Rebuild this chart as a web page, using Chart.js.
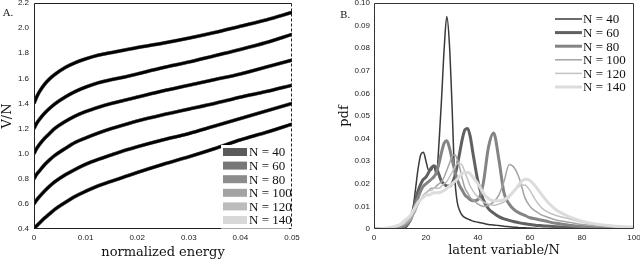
<!DOCTYPE html>
<html>
<head>
<meta charset="utf-8">
<script src="https://cdn.jsdelivr.net/npm/chart.js@4.4.0/dist/chart.umd.min.js"></script>
<style>
  body { margin: 0; background: #fff; }
  #wrap { position: relative; width: 640px; height: 260px; overflow: hidden; }
  canvas { position: absolute; top: 0; }
  #chartA { left: 0; }
  #chartB { left: 320px; }
  .tag { position: absolute; font: 10px "DejaVu Serif", serif; color: #111; }
</style>
</head>
<body>
<div id="wrap">
  <canvas id="chartA" width="320" height="260"></canvas>
  <canvas id="chartB" width="320" height="260"></canvas>
  <span class="tag" style="left:3px;top:7px">A.</span>
  <span class="tag" style="left:340px;top:9px">B.</span>
</div>
<script>
const sizes = ['N = 40', 'N = 60', 'N = 80', 'N = 100', 'N = 120', 'N = 140']

// panel A: V/N against normalized energy, one curve per starting level
const energy = [0, 0.0005, 0.001, 0.002, 0.003, 0.004, 0.006, 0.008, 0.01, 0.0125, 0.015, 0.0175, 0.02, 0.025, 0.03, 0.035, 0.04, 0.045, 0.05]
const vn14 = [1.40, 1.45, 1.49, 1.55, 1.595, 1.63, 1.685, 1.725, 1.755, 1.785, 1.805, 1.825, 1.845, 1.88, 1.92, 1.965, 2.015, 2.065, 2.125]
const vn12 = [1.20, 1.24, 1.27, 1.32, 1.36, 1.395, 1.45, 1.495, 1.53, 1.565, 1.59, 1.61, 1.635, 1.685, 1.73, 1.78, 1.83, 1.885, 1.95]
const vn10 = [1.00, 1.04, 1.07, 1.12, 1.16, 1.20, 1.255, 1.30, 1.335, 1.37, 1.40, 1.425, 1.45, 1.50, 1.545, 1.59, 1.635, 1.69, 1.745]
const vn08 = [0.80, 0.835, 0.86, 0.91, 0.95, 0.985, 1.04, 1.09, 1.125, 1.165, 1.20, 1.23, 1.26, 1.31, 1.355, 1.40, 1.45, 1.495, 1.545]
const vn06 = [0.60, 0.63, 0.655, 0.70, 0.74, 0.775, 0.83, 0.875, 0.915, 0.955, 0.99, 1.025, 1.055, 1.11, 1.16, 1.22, 1.28, 1.34, 1.40]
const vn04 = [0.40, 0.425, 0.445, 0.485, 0.52, 0.555, 0.61, 0.66, 0.70, 0.745, 0.78, 0.815, 0.85, 0.915, 0.975, 1.04, 1.11, 1.17, 1.235]

// panel B: pdf of latent variable/N
const latent = [0, 5, 10, 12, 14, 15, 16, 17, 18, 19, 20, 21, 22, 23, 24, 25, 26, 27, 28, 29, 30, 31, 32, 33, 34, 35, 36, 37, 38, 40, 42, 44, 46, 48, 50, 52, 54, 56, 58, 60, 62, 64, 66, 70, 75, 80, 90, 100]
const pdf40 = [0, 0, 0, 0.0005, 0.004, 0.009, 0.018, 0.027, 0.033, 0.034, 0.030, 0.026, 0.026, 0.028, 0.024, 0.038, 0.058, 0.080, 0.094, 0.082, 0.055, 0.024, 0.012, 0.008, 0.006, 0.005, 0.0045, 0.004, 0.0035, 0.003, 0.0025, 0.002, 0.0018, 0.0015, 0.0012, 0.001, 0.0008, 0.0006, 0.0005, 0.0004, 0.0003, 0.0002, 0.0002, 0.0001, 0, 0, 0, 0]
const pdf60 = [0, 0, 0.0002, 0.001, 0.004, 0.008, 0.013, 0.017, 0.020, 0.022, 0.023, 0.025, 0.027, 0.028, 0.027, 0.024, 0.021, 0.020, 0.019, 0.019, 0.020, 0.023, 0.028, 0.034, 0.040, 0.044, 0.0445, 0.041, 0.034, 0.021, 0.013, 0.009, 0.007, 0.0055, 0.0045, 0.0038, 0.0032, 0.0027, 0.0023, 0.002, 0.0017, 0.0015, 0.0013, 0.001, 0.0007, 0.0004, 0.0002, 0]
const pdf80 = [0, 0, 0.0005, 0.0015, 0.004, 0.007, 0.011, 0.014, 0.017, 0.019, 0.020, 0.021, 0.022, 0.023, 0.025, 0.029, 0.034, 0.038, 0.039, 0.036, 0.031, 0.026, 0.022, 0.019, 0.017, 0.015, 0.014, 0.013, 0.0125, 0.013, 0.020, 0.036, 0.0425, 0.031, 0.016, 0.011, 0.0085, 0.007, 0.006, 0.005, 0.0045, 0.004, 0.0035, 0.0025, 0.0017, 0.0011, 0.0004, 0.0002]
const pdf100 = [0, 0.0002, 0.001, 0.002, 0.004, 0.006, 0.008, 0.011, 0.013, 0.015, 0.016, 0.017, 0.018, 0.018, 0.019, 0.020, 0.021, 0.023, 0.026, 0.029, 0.032, 0.033, 0.031, 0.027, 0.022, 0.018, 0.016, 0.014, 0.013, 0.011, 0.010, 0.0105, 0.012, 0.015, 0.021, 0.0285, 0.027, 0.022, 0.014, 0.010, 0.008, 0.0065, 0.0055, 0.004, 0.003, 0.002, 0.001, 0.0005]
const pdf120 = [0, 0.0003, 0.0015, 0.003, 0.005, 0.007, 0.009, 0.011, 0.013, 0.015, 0.016, 0.017, 0.017, 0.018, 0.018, 0.018, 0.019, 0.020, 0.021, 0.023, 0.025, 0.027, 0.029, 0.029, 0.028, 0.025, 0.022, 0.019, 0.017, 0.014, 0.012, 0.011, 0.0105, 0.011, 0.012, 0.014, 0.017, 0.019, 0.0195, 0.017, 0.013, 0.010, 0.008, 0.006, 0.0045, 0.003, 0.0015, 0.0008]
const pdf140 = [0, 0.0005, 0.002, 0.004, 0.006, 0.008, 0.010, 0.012, 0.013, 0.014, 0.015, 0.015, 0.0155, 0.016, 0.016, 0.016, 0.0165, 0.017, 0.018, 0.019, 0.020, 0.021, 0.022, 0.0235, 0.0245, 0.025, 0.025, 0.0245, 0.023, 0.020, 0.016, 0.0135, 0.0125, 0.0125, 0.013, 0.0145, 0.017, 0.020, 0.022, 0.0215, 0.019, 0.016, 0.013, 0.0085, 0.0055, 0.0035, 0.0015, 0.0008]

const greysA = ['#5a5a5a', '#777777', '#8c8c8c', '#a3a3a3', '#bcbcbc', '#d8d8d8']
const greysB = ['#3a3a3a', '#606060', '#848484', '#a4a4a4', '#c2c2c2', '#dcdcdc']
const widthsB = [1.5, 3, 3, 1.5, 1.5, 3]

const serif = '"Liberation Serif", serif'
const titleFont = { family: '"DejaVu Serif", serif', size: 13 }
const tickFont = { family: '"Liberation Sans", sans-serif', size: 8 }

// all six curves in one dataset, with a null point between them
function curvePoints() {
  let pts = []
  let curves = [vn14, vn12, vn10, vn08, vn06, vn04]
  curves.forEach(c => {
    c.forEach((v, i) => pts.push({ x: energy[i], y: v }))
    pts.push({ x: energy[energy.length - 1], y: null })
  })
  return pts
}

const frame = {
  id: 'frame',
  afterDatasetsDraw(chart, args, o) {
    const ctx = chart.ctx
    const a = chart.chartArea
    const l = Math.round(a.left) + 0.5, r = Math.round(a.right) - 0.5
    const t = Math.round(a.top) + 0.5, b = Math.round(a.bottom) - 0.5
    ctx.save()
    ctx.strokeStyle = o.color
    ctx.lineWidth = 1
    ctx.beginPath()
    ctx.moveTo(r, t); ctx.lineTo(l, t); ctx.lineTo(l, b); ctx.lineTo(r, b)
    ctx.stroke()
    ctx.setLineDash(o.rightDash || [])
    ctx.beginPath()
    ctx.moveTo(r, t); ctx.lineTo(r, b)
    ctx.stroke()
    ctx.restore()
  }
}

const keyBox = {
  id: 'keyBox',
  afterDraw(chart, args, o) {
    const ctx = chart.ctx
    let items = chart.data.datasets.filter(ds => ds.label)
    ctx.save()
    if (o.bg) {
      ctx.fillStyle = '#fff'
      ctx.fillRect(o.x - 2, o.y - 7, o.bgW, items.length * o.gap + 2)
    }
    ctx.font = '13px ' + serif
    ctx.textBaseline = 'middle'
    items.forEach((ds, i) => {
      const y = o.y + i * o.gap
      if (o.style === 'box') {
        ctx.fillStyle = ds.borderColor
        ctx.fillRect(o.x, y - 4, 24, 8)
      } else {
        ctx.strokeStyle = ds.borderColor
        ctx.lineWidth = ds.borderWidth
        ctx.beginPath()
        ctx.moveTo(o.x, y); ctx.lineTo(o.x + o.len, y)
        ctx.stroke()
      }
      ctx.fillStyle = '#111'
      ctx.fillText(ds.label, o.x + o.textOff, y + 1)
    })
    ctx.restore()
  }
}

function fixBox(w, h) {
  return s => {
    if (w) s.width = w
    if (h) s.height = h
    s.paddingTop = 0; s.paddingBottom = 0; s.paddingLeft = 0; s.paddingRight = 0
  }
}

// ---- panel A
let dsA = [{
  label: '',
  data: curvePoints(),
  borderColor: '#000',
  borderWidth: 2.7,
  order: 0
}]
sizes.forEach((s, i) => {
  dsA.push({
    label: s,
    data: curvePoints(),
    borderColor: greysA[i],
    backgroundColor: greysA[i],
    borderWidth: 2.9 + i * 0.2,
    order: i + 1
  })
})

new Chart(document.getElementById('chartA'), {
  type: 'scatter',
  data: { datasets: dsA },
  plugins: [frame, keyBox],
  options: {
    responsive: false,
    animation: false,
    devicePixelRatio: 1,
    showLine: true,
    spanGaps: false,
    elements: { point: { radius: 0 }, line: { cubicInterpolationMode: 'monotone' } },
    layout: { padding: { top: 3, right: 28, left: 0, bottom: 0 } },
    plugins: {
      legend: { display: false },
      tooltip: { enabled: false },
      frame: { color: '#222', rightDash: [3, 2] },
      keyBox: { style: 'box', x: 223, y: 152, gap: 13.6, textOff: 26, bg: true, bgW: 68 }
    },
    scales: {
      x: {
        type: 'linear', min: 0, max: 0.05,
        grid: { display: false, drawTicks: false },
        border: { display: false },
        ticks: { stepSize: 0.01, font: tickFont, color: '#222', padding: 4, maxRotation: 0 },
        title: { display: true, text: 'normalized energy', font: titleFont, color: '#111', padding: 0 },
        afterFit: fixBox(0, 31)
      },
      y: {
        min: 0.4, max: 2.2,
        grid: { display: false, drawTicks: false },
        border: { display: false },
        ticks: { stepSize: 0.2, font: tickFont, color: '#222', padding: 5 },
        title: { display: true, text: 'V/N', font: titleFont, color: '#111', padding: 0 },
        afterFit: fixBox(34, 0)
      }
    }
  }
})

// ---- panel B
const pdfs = [pdf40, pdf60, pdf80, pdf100, pdf120, pdf140]
let dsB = sizes.map((s, i) => ({
  label: s,
  data: latent.map((x, j) => ({ x: x, y: pdfs[i][j] })),
  borderColor: greysB[i],
  backgroundColor: greysB[i],
  borderWidth: widthsB[i],
  order: 6 - i
}))

new Chart(document.getElementById('chartB'), {
  type: 'scatter',
  data: { datasets: dsB },
  plugins: [frame, keyBox],
  options: {
    responsive: false,
    animation: false,
    devicePixelRatio: 1,
    showLine: true,
    elements: { point: { radius: 0 }, line: { cubicInterpolationMode: 'monotone' } },
    layout: { padding: { top: 3, right: 6, left: 0, bottom: 0 } },
    plugins: {
      legend: { display: false },
      tooltip: { enabled: false },
      frame: { color: '#333' },
      keyBox: { style: 'line', x: 235, y: 19, gap: 13.6, len: 27, textOff: 28 }
    },
    scales: {
      x: {
        type: 'linear', min: 0, max: 100,
        grid: { display: false, drawTicks: false },
        border: { display: false },
        ticks: { stepSize: 20, font: tickFont, color: '#222', padding: 4, maxRotation: 0 },
        title: { display: true, text: 'latent variable/N', font: titleFont, color: '#111', padding: { top: 0, bottom: 2 } },
        afterFit: fixBox(0, 31)
      },
      y: {
        min: 0, max: 0.1,
        grid: { display: false, drawTicks: false },
        border: { display: false },
        ticks: { stepSize: 0.01, font: tickFont, color: '#222', padding: 4 },
        title: { display: true, text: 'pdf', font: titleFont, color: '#111', padding: { top: 17, bottom: 0 } },
        afterFit: fixBox(54, 0)
      }
    }
  }
})
</script>
</body>
</html>
